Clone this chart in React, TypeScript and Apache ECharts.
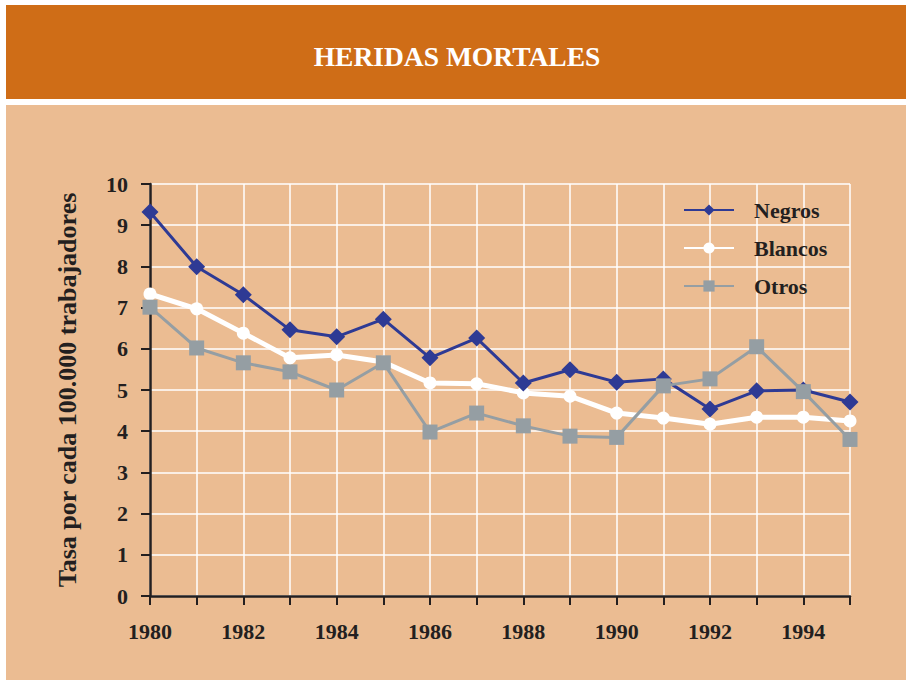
import React, { useEffect, useRef } from "react";
import * as echarts from "echarts";

const years = [1980, 1981, 1982, 1983, 1984, 1985, 1986, 1987, 1988, 1989, 1990, 1991, 1992, 1993, 1994, 1995];
const negros = [9.32, 7.99, 7.31, 6.46, 6.29, 6.72, 5.78, 6.26, 5.17, 5.49, 5.19, 5.27, 4.54, 4.98, 5.0, 4.71];
const blancos = [7.33, 6.97, 6.38, 5.78, 5.85, 5.68, 5.17, 5.15, 4.93, 4.85, 4.44, 4.32, 4.17, 4.34, 4.34, 4.25];
const otros = [7.01, 6.02, 5.66, 5.44, 5.0, 5.66, 3.98, 4.44, 4.13, 3.88, 3.85, 5.1, 5.27, 6.05, 4.96, 3.8];
const seriesNames = ["Negros", "Blancos", "Otros"];
const title = "HERIDAS MORTALES";
const yName = "Tasa por cada 100.000 trabajadores";

const FONT = "'Liberation Serif', 'DejaVu Serif', serif";
const TXT = "#231F20";

export default function App() {
  const ref = useRef<HTMLDivElement>(null);
  useEffect(() => {
    if (!ref.current) return;
    const chart = echarts.init(ref.current, undefined, { renderer: "svg" });
    const pair = (vals: number[]) => years.map((y, i) => [y, vals[i]]);
    chart.setOption({
      animation: false,
      backgroundColor: "#ffffff",
      graphic: [
        { type: "rect", shape: { x: 6, y: 5, width: 900, height: 94 }, style: { fill: "#CF6D17" }, z: -10 },
        { type: "rect", shape: { x: 6, y: 105, width: 900, height: 575 }, style: { fill: "#EBBC92" }, z: -10 },
        {
          type: "text",
          x: 457,
          y: 56,
          style: {
            text: title,
            fill: "#ffffff",
            font: `bold 27.5px ${FONT}`,
            align: "center",
            verticalAlign: "middle",
          },
          z: 10,
        },
      ],
      grid: { left: 150, right: 56, top: 184, bottom: 86, containLabel: false },
      legend: {
        orient: "vertical",
        left: 678,
        top: 194,
        itemWidth: 50,
        itemHeight: 14,
        itemGap: 16,
        data: seriesNames,
        textStyle: { fontFamily: FONT, fontWeight: "bold", fontSize: 22, color: TXT, padding: [0, 0, 0, 15] },
      },
      xAxis: {
        type: "value",
        min: 1980,
        max: 1995,
        interval: 1,
        axisLine: { show: true, lineStyle: { color: TXT, width: 2.5 } },
        axisTick: { show: true, length: 9, inside: false, lineStyle: { color: TXT, width: 2 } },
        axisLabel: {
          margin: 24,
          fontFamily: FONT,
          fontWeight: "bold",
          fontSize: 22,
          color: TXT,
          formatter: (v: number) => (v % 2 === 0 ? String(v) : ""),
        },
        splitLine: { show: true, lineStyle: { color: "#ffffff", width: 1.5 } },
      },
      yAxis: {
        type: "value",
        min: 0,
        max: 10,
        interval: 1,
        name: yName,
        nameLocation: "middle",
        nameGap: 70,
        nameTextStyle: { fontFamily: FONT, fontWeight: "bold", fontSize: 26, color: TXT },
        axisLine: { show: true, lineStyle: { color: TXT, width: 2.5 } },
        axisTick: { show: true, length: 9, lineStyle: { color: TXT, width: 2 } },
        axisLabel: { margin: 22, fontFamily: FONT, fontWeight: "bold", fontSize: 22, color: TXT },
        splitLine: { show: true, lineStyle: { color: "#ffffff", width: 1.5 } },
      },
      series: [
        {
          name: seriesNames[0],
          type: "line",
          data: pair(negros),
          symbol: "diamond",
          symbolSize: 17,
          itemStyle: { color: "#2E3A94" },
          lineStyle: { color: "#2E3A94", width: 3 },
          z: 4,
        },
        {
          name: seriesNames[1],
          type: "line",
          data: pair(blancos),
          symbol: "circle",
          symbolSize: 13,
          itemStyle: { color: "#ffffff" },
          lineStyle: { color: "#ffffff", width: 5 },
          z: 3,
        },
        {
          name: seriesNames[2],
          type: "line",
          data: pair(otros),
          symbol: "rect",
          symbolSize: 15,
          itemStyle: { color: "#959EA3" },
          lineStyle: { color: "#959EA3", width: 3 },
          z: 5,
        },
      ],
    });
    return () => chart.dispose();
  }, []);
  return <div ref={ref} style={{ position: "absolute", left: 0, top: 0, width: 906, height: 682 }} />;
}
